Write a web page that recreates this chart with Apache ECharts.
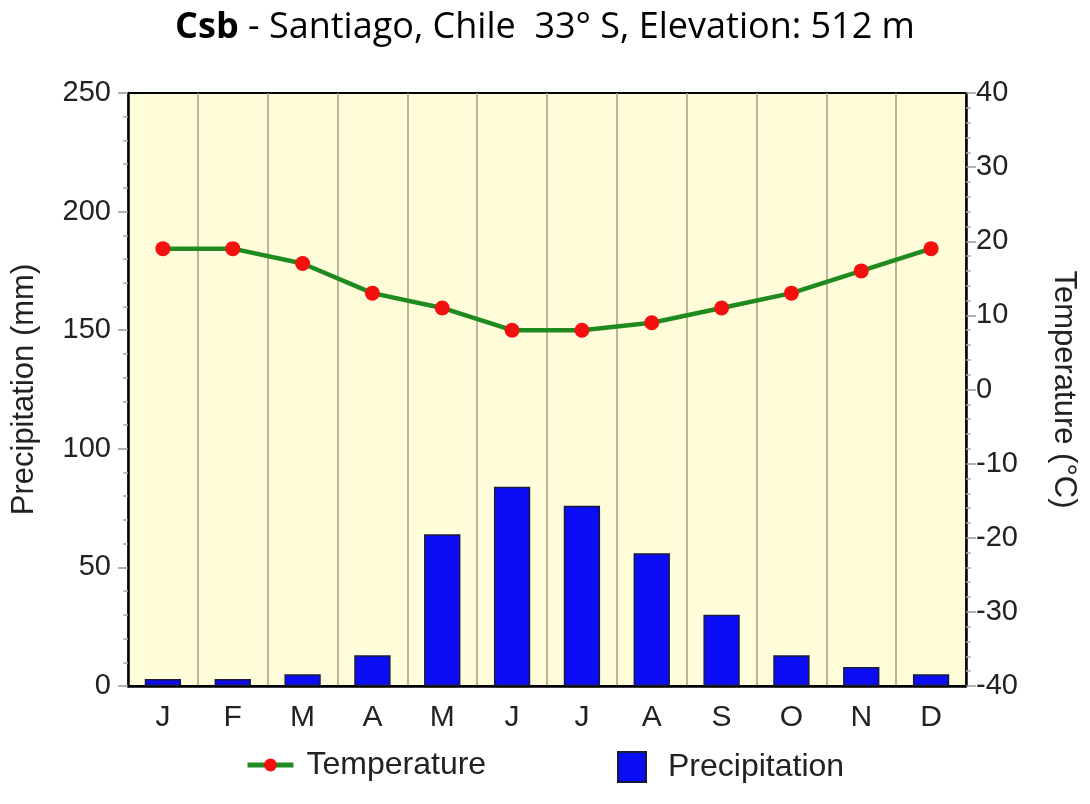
<!DOCTYPE html>
<html>
<head>
<meta charset="utf-8">
<script src="https://cdn.jsdelivr.net/npm/echarts@6/dist/echarts.min.js"></script>
<style>
  html, body { margin: 0; padding: 0; background: #fff; }
  #chart { width: 1090px; height: 804px; }
</style>
</head>
<body>
<div id="chart"></div>
<script>
var months = ['J', 'F', 'M', 'A', 'M', 'J', 'J', 'A', 'S', 'O', 'N', 'D'];
var precipitation = [3, 3, 5, 13, 64, 84, 76, 56, 30, 13, 8, 5];
var temperature = [19, 19, 17, 13, 11, 8, 8, 9, 11, 13, 16, 19];

var axisFont = 'Liberation Sans';

var chart = echarts.init(document.getElementById('chart'));
var option = {
    backgroundColor: '#fff',
    title: {
        text: '{b|Csb} - Santiago, Chile  33° S, Elevation: 512 m',
        left: 'center',
        top: 5,
        textStyle: {
            fontFamily: 'Open Sans',
            fontSize: 36,
            fontWeight: 'normal',
            color: '#000',
            rich: {
                b: { fontFamily: 'Open Sans', fontSize: 36, fontWeight: 'bold', color: '#000' }
            }
        }
    },
    legend: [
        {
            data: ['Temperature'],
            left: 240,
            top: 744,
            itemWidth: 46,
            itemHeight: 16,
            lineStyle: { width: 5 },
            textStyle: { fontFamily: axisFont, fontSize: 32, color: '#222', padding: [0, 0, 0, 8] }
        },
        {
            data: ['Precipitation'],
            left: 612,
            top: 746,
            itemWidth: 28,
            itemHeight: 30,
            icon: 'rect',
            textStyle: { fontFamily: axisFont, fontSize: 32, color: '#222', padding: [0, 0, 0, 17] }
        }
    ],
    grid: {
        left: 128,
        right: 124,
        top: 93,
        bottom: 118,
        outerBoundsMode: 'none',
        show: true,
        backgroundColor: '#fffdd9',
        borderColor: '#000',
        borderWidth: 2
    },
    xAxis: {
        type: 'category',
        data: months,
        axisLine: { lineStyle: { color: '#000', width: 2.5 } },
        axisTick: { show: false },
        axisLabel: { fontFamily: axisFont, fontSize: 30, color: '#222', margin: 17 },
        splitLine: { show: true, lineStyle: { color: '#a39f82', width: 1.5 } }
    },
    yAxis: [
        {
            type: 'value',
            name: 'Precipitation (mm)',
            nameLocation: 'middle',
            nameGap: 88,
            nameTextStyle: { fontFamily: axisFont, fontSize: 31, color: '#222' },
            min: 0,
            max: 250,
            interval: 50,
            axisLine: { show: true, lineStyle: { color: '#000', width: 2.5 } },
            axisTick: { show: true, length: 10, lineStyle: { color: '#999', width: 1.5 } },
            minorTick: { show: true, splitNumber: 5, length: 5, lineStyle: { color: '#aaa', width: 1.5 } },
            axisLabel: { fontFamily: axisFont, fontSize: 29, color: '#222', margin: 17 },
            splitLine: { show: false }
        },
        {
            type: 'value',
            name: 'Temperature (°C)',
            nameLocation: 'middle',
            nameGap: 82,
            nameRotate: -90,
            nameTextStyle: { fontFamily: axisFont, fontSize: 31, color: '#222' },
            min: -40,
            max: 40,
            interval: 10,
            axisLine: { show: true, lineStyle: { color: '#000', width: 2.5 } },
            axisTick: { show: true, length: 10, lineStyle: { color: '#999', width: 1.5 } },
            minorTick: { show: true, splitNumber: 5, length: 5, lineStyle: { color: '#aaa', width: 1.5 } },
            axisLabel: { fontFamily: axisFont, fontSize: 29, color: '#222', margin: 10 },
            splitLine: { show: false }
        }
    ],
    series: [
        {
            name: 'Precipitation',
            type: 'bar',
            yAxisIndex: 0,
            data: precipitation,
            barWidth: '52%',
            itemStyle: { color: '#0a0df5', borderColor: '#1a1a3a', borderWidth: 1.5 }
        },
        {
            name: 'Temperature',
            type: 'line',
            yAxisIndex: 1,
            data: temperature,
            symbol: 'circle',
            symbolSize: 15,
            lineStyle: { color: '#1f8a1f', width: 4.5 },
            itemStyle: { color: '#f51010' },
            z: 5
        }
    ]
};
chart.setOption(option);
</script>
</body>
</html>
